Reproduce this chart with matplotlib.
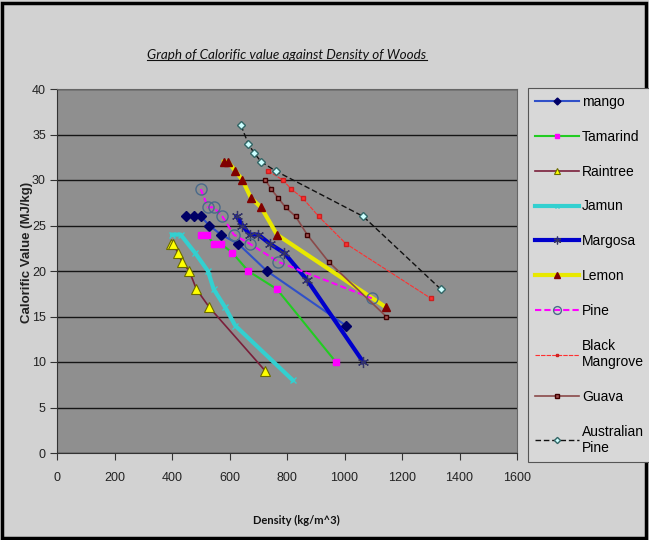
import matplotlib

matplotlib.use("Agg")
import matplotlib.pyplot as plt
from matplotlib.lines import Line2D
from matplotlib.patches import Rectangle

# Density (kg/m^3) and calorific value (MJ/kg) per wood
mango_x = [450, 475, 500, 530, 570, 630, 730, 1005]
mango_y = [26, 26, 26, 25, 24, 23, 20, 14]
tamarind_x = [500, 520, 545, 570, 610, 665, 765, 970]
tamarind_y = [24, 24, 23, 23, 22, 20, 18, 10]
raintree_x = [395, 405, 420, 435, 460, 485, 530, 725]
raintree_y = [23, 23, 22, 21, 20, 18, 16, 9]
jamun_x = [400, 430, 480, 525, 545, 585, 620, 820]
jamun_y = [24, 24, 22, 20, 18, 16, 14, 8]
margosa_x = [625, 645, 670, 700, 740, 790, 870, 1065]
margosa_y = [26, 25, 24, 24, 23, 22, 19, 10]
lemon_x = [580, 595, 620, 645, 675, 710, 765, 1145]
lemon_y = [32, 32, 31, 30, 28, 27, 24, 16]
pine_x = [500, 525, 545, 575, 615, 670, 770, 1095]
pine_y = [29, 27, 27, 26, 24, 23, 21, 17]
bmangrove_x = [735, 785, 815, 855, 910, 1005, 1300]
bmangrove_y = [31, 30, 29, 28, 26, 23, 17]
guava_x = [725, 745, 770, 795, 830, 870, 945, 1145]
guava_y = [30, 29, 28, 27, 26, 24, 21, 15]
apine_x = [640, 665, 685, 710, 760, 1065, 1335]
apine_y = [36, 34, 33, 32, 31, 26, 18]

x_ticks = [0, 200, 400, 600, 800, 1000, 1200, 1400, 1600]
y_ticks = [0, 5, 10, 15, 20, 25, 30, 35, 40]

BG = "#d2d2d2"
PLOT_BG = "#8f8f8f"

fig = plt.figure(figsize=(6.49, 5.40), dpi=100, facecolor=BG)
ax = fig.add_axes([57 / 649, 1 - 453 / 540, 460 / 649, 364 / 540])
ax.set_facecolor(PLOT_BG)

ax.plot(mango_x, mango_y, color="#3050c8", lw=1.5, marker="D", ms=5,
        mfc="#000066", mec="#000066", label="mango")
ax.plot(tamarind_x, tamarind_y, color="#22cc22", lw=1.5, marker="s", ms=4.5,
        mfc="#ff00ff", mec="#ff00ff", label="Tamarind")
ax.plot(raintree_x, raintree_y, color="#7a1f3a", lw=1.2, marker="^", ms=6.5,
        mfc="#ffff00", mec="#6b6b00", mew=0.8, label="Raintree")
ax.plot(jamun_x, jamun_y, color="#33d0d0", lw=3, marker="x", ms=4,
        mec="#33d0d0", label="Jamun")
ax.plot(margosa_x, margosa_y, color="#0000cc", lw=3, marker=(6, 2, 0), ms=8,
        mec="#333366", mew=0.9, label="Margosa")
ax.plot(lemon_x, lemon_y, color="#e8e800", lw=3, marker="^", ms=6,
        mfc="#800000", mec="#800000", label="Lemon")
ax.plot(pine_x, pine_y, color="#ff00ff", lw=1.5, ls=(0, (3, 1.5)), marker="o", ms=8,
        mfc="none", mec="#4a6a8a", mew=1.0, label="Pine")
ax.plot(bmangrove_x, bmangrove_y, color="#ff3030", lw=0.8, ls=(0, (4, 1)), marker="s",
        ms=3, mfc="#ff3030", mec="#cc2020", label="Black\nMangrove")
ax.plot(guava_x, guava_y, color="#8a4a4a", lw=1.2, marker="s", ms=3.5,
        mfc="#a05050", mec="#400000", label="Guava")
ax.plot(apine_x, apine_y, color="#111111", lw=1.0, ls=(0, (4, 2)), marker="D", ms=4.5,
        mfc="#ccffff", mec="#336666", label="Australian\nPine")

ax.set_xlim(0, 1600)
ax.set_ylim(0, 40)
ax.set_xticks(x_ticks)
ax.set_yticks(y_ticks)
tick_font = dict(family=["Liberation Sans", "DejaVu Sans"], size=9, color="#222222")
ax.set_xticklabels([str(v) for v in x_ticks], **tick_font)
ax.set_yticklabels([str(v) for v in y_ticks], **tick_font)
ax.tick_params(axis="x", direction="out", length=5, pad=9, color="#333333")
ax.tick_params(axis="y", direction="out", length=5, pad=3, color="#333333")
ax.yaxis.grid(True, color="#151515", lw=1)
ax.set_axisbelow(True)
for side in ["left", "bottom"]:
    ax.spines[side].set_color("#333333")
for side in ["top", "right"]:
    ax.spines[side].set_color("#666666")

ax.set_xlabel("Density (kg/m^3)", family=["Lato", "DejaVu Sans"], weight="bold",
              size=8, color="#111111")
ax.xaxis.set_label_coords(0.52, -0.17)
ax.set_ylabel("Calorific Value (MJ/kg)", family=["Liberation Sans", "DejaVu Sans"],
              weight="bold", size=9.5, color="#222222")
ax.yaxis.set_label_coords(-0.053, 0.552)

title = fig.text(287 / 649, 1 - 55 / 540, "Graph of Calorific value against Density of Woods",
                 family=["Lato", "DejaVu Sans"], style="italic", size=9.7,
                 ha="center", va="center", color="#111111")

leg = fig.legend(loc="upper left", bbox_to_anchor=(528 / 649, 1 - 88 / 540),
                 prop={"family": ["Liberation Sans", "DejaVu Sans"], "size": 10},
                 labelspacing=1.5, handlelength=3.2, handletextpad=0.2,
                 markerscale=0.7, borderaxespad=0, borderpad=0.5, fancybox=False)
leg.get_frame().set_facecolor("#d8d8d8")
leg.get_frame().set_edgecolor("#555555")
leg.get_frame().set_linewidth(0.8)
leg.get_frame().set_alpha(1)

# outer chart border
fig.add_artist(Rectangle((0.003, 0.004), 0.993, 0.991, transform=fig.transFigure,
                         fill=False, ec="black", lw=2.5))

# underline the title
fig.canvas.draw()
bb = title.get_window_extent().transformed(fig.transFigure.inverted())
fig.add_artist(Line2D([bb.x0, bb.x1], [bb.y0 + 0.002, bb.y0 + 0.002],
                      transform=fig.transFigure, color="#111111", lw=0.8))

fig.savefig("out.png", dpi=100, facecolor=BG)
